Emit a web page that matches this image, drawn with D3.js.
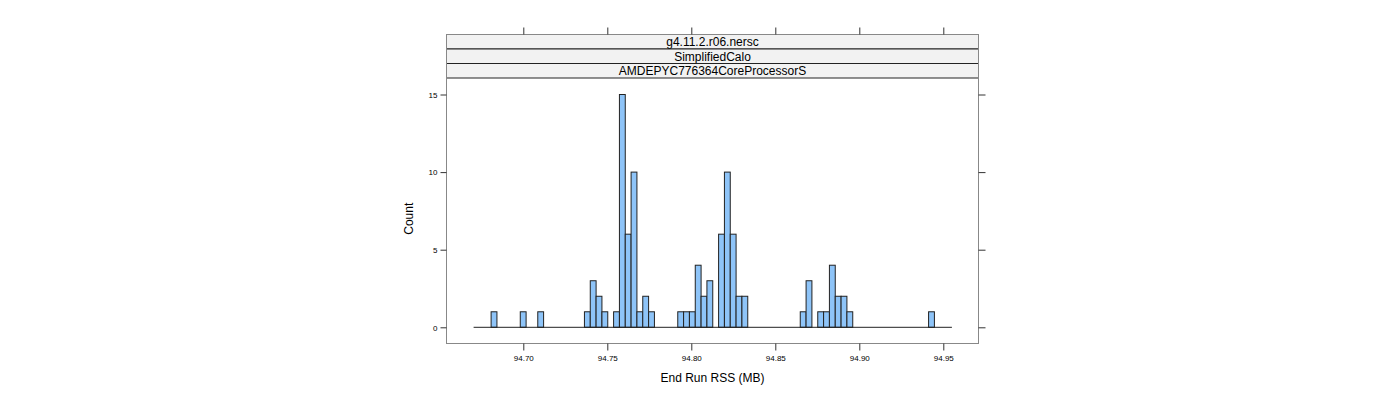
<!DOCTYPE html>
<html>
<head>
<meta charset="utf-8">
<script src="https://cdn.jsdelivr.net/npm/d3@7"></script>
<style>
  html, body { margin: 0; padding: 0; background: #fff; }
  svg { display: block; }
  text { font-family: "Liberation Sans", Arial, sans-serif; }
</style>
</head>
<body>
<svg id="chart" width="1400" height="400"></svg>
<script>
// ---- data ----
const stripLabels = ["g4.11.2.r06.nersc", "SimplifiedCalo", "AMDEPYC776364CoreProcessorS"];
const binStart = 94.67042;     // left edge of first bin (MB)
const binWidth = 0.003472;     // bin width (MB)
// counts per bin (82 bins)
const counts = [
  0,0,0,1,0,0,0,0,1,0,
  0,1,0,0,0,0,0,0,0,1,
  3,2,1,0,1,15,6,10,1,2,
  1,0,0,0,0,1,1,1,4,2,
  3,0,6,10,6,2,2,0,0,0,
  0,0,0,0,0,0,1,3,0,1,
  1,4,2,2,1,0,0,0,0,0,
  0,0,0,0,0,0,0,0,1,0,
  0,0
];
const xTicks = [94.70, 94.75, 94.80, 94.85, 94.90, 94.95];
const yTicks = [0, 5, 10, 15];
const xLabel = "End Run RSS (MB)";
const yLabel = "Count";

// ---- layout ----
const svg = d3.select("#chart");
const L = 446.5, R = 978.5, T = 34.5, B = 343.5;
const stripH = 14.5;
const plotTop = T + stripH * 3;

const x = d3.scaleLinear().domain([94.70, 94.95]).range([523.3, 943.3]);
const y = d3.scaleLinear().domain([0, 15]).range([327.3, 94.5]);

const bins = counts.map((c, i) => ({ x0: binStart + i * binWidth, x1: binStart + (i + 1) * binWidth, c }));

// bars
svg.append("g").selectAll("rect").data(bins).join("rect")
  .attr("x", d => x(d.x0))
  .attr("width", d => x(d.x1) - x(d.x0))
  .attr("y", d => y(d.c))
  .attr("height", d => y(0) - y(d.c))
  .attr("fill", "#8ec4f8")
  .attr("stroke", "#222")
  .attr("stroke-width", 1);

// zero-height bins appear as a baseline
svg.append("line")
  .attr("x1", x(bins[0].x0)).attr("x2", x(bins[bins.length - 1].x1))
  .attr("y1", y(0)).attr("y2", y(0))
  .attr("stroke", "#222").attr("stroke-width", 1);

// strips
stripLabels.forEach((s, i) => {
  const sy = T + i * stripH;
  svg.append("rect").attr("x", L).attr("y", sy).attr("width", R - L).attr("height", stripH)
    .attr("fill", "#f2f2f2").attr("stroke", "#222").attr("stroke-width", 1);
  svg.append("text").attr("x", (L + R) / 2).attr("y", sy + stripH / 2 + 4.5)
    .attr("text-anchor", "middle").attr("font-size", 12).attr("fill", "#000").text(s);
});

// panel frame
svg.append("rect").attr("x", L).attr("y", T).attr("width", R - L).attr("height", B - T)
  .attr("fill", "none").attr("stroke", "#888").attr("stroke-width", 1);

// axes (lattice-style: ticks both sides, labels left & bottom)
const tickStroke = "#333";
const xb = svg.append("g").attr("transform", `translate(0,${B})`)
  .call(d3.axisBottom(x).tickValues(xTicks).tickFormat(d3.format(".2f")).tickSize(7).tickPadding(5));
const xt = svg.append("g").attr("transform", `translate(0,${T})`)
  .call(d3.axisTop(x).tickValues(xTicks).tickFormat("").tickSize(7));
const yl = svg.append("g").attr("transform", `translate(${L},0)`)
  .call(d3.axisLeft(y).tickValues(yTicks).tickFormat(d3.format("d")).tickSize(6).tickPadding(3));
const yr = svg.append("g").attr("transform", `translate(${R},0)`)
  .call(d3.axisRight(y).tickValues(yTicks).tickFormat("").tickSize(7));
[xb, xt, yl, yr].forEach(g => {
  g.select(".domain").remove();
  g.selectAll(".tick line").attr("stroke", tickStroke);
  g.selectAll(".tick text").attr("font-size", 8).attr("fill", "#000")
    .attr("font-family", "'Liberation Sans', Arial, sans-serif");
});
yl.selectAll(".tick text").attr("dy", "0.35em");

// axis labels
svg.append("text").attr("x", (L + R) / 2).attr("y", 382)
  .attr("text-anchor", "middle").attr("font-size", 12).text(xLabel);
svg.append("text").attr("transform", `translate(413,${(plotTop + B) / 2 + 8}) rotate(-90)`)
  .attr("text-anchor", "middle").attr("font-size", 12).text(yLabel);
</script>
</body>
</html>
